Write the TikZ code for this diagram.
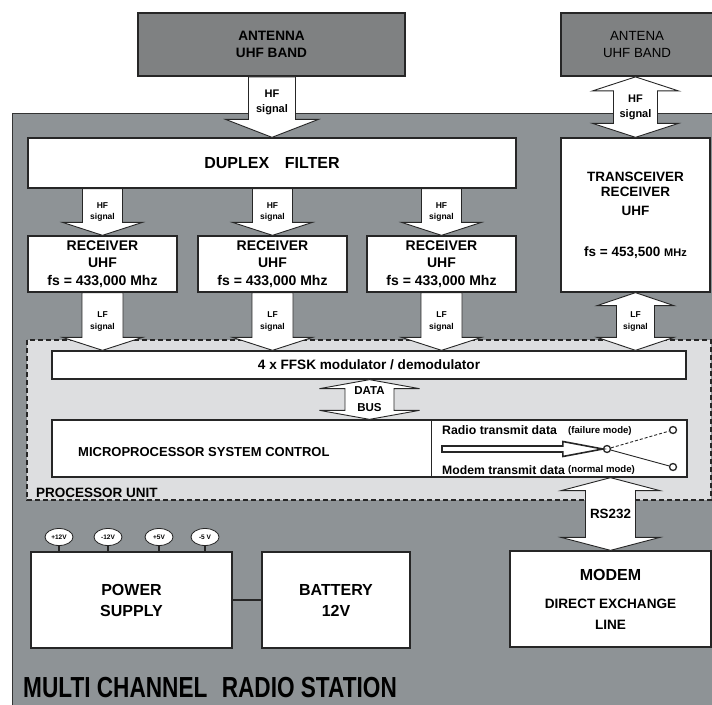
\documentclass[tikz,border=0pt]{standalone}
\usepackage{fontspec}
\setmainfont{Liberation Sans}
\newfontfamily\narrowsans[FakeStretch=0.78]{Liberation Sans}
\usetikzlibrary{calc, shapes.geometric}

\definecolor{stationgray}{RGB}{142,147,150}
\definecolor{antgray}{RGB}{127,129,130}
\definecolor{unitgray}{RGB}{221,222,224}

% vertical block arrows: from, to, shaft half width, head half width, head length, label style, label name, label
\newcommand{\blockdown}[8]{%
  \draw[blockarr] let \p1=#1, \p2=#2 in
    (\x2-#3,\y1) -- (\x2+#3,\y1) -- (\x2+#3,\y2+#5) -- (\x2+#4,\y2+#5) -- (\x2,\y2)
    -- (\x2-#4,\y2+#5) -- (\x2-#3,\y2+#5) -- cycle
    node[#6] (#7) at (\x2,{0.5*(\y1+\y2)}) {#8};}
\newcommand{\blockboth}[8]{%
  \draw[blockarr] let \p1=#1, \p2=#2 in
    (\x2,\y1) -- (\x2+#4,\y1-#5) -- (\x2+#3,\y1-#5) -- (\x2+#3,\y2+#5) -- (\x2+#4,\y2+#5) -- (\x2,\y2)
    -- (\x2-#4,\y2+#5) -- (\x2-#3,\y2+#5) -- (\x2-#3,\y1-#5) -- (\x2-#4,\y1-#5) -- cycle
    node[#6] (#7) at (\x2,{0.5*(\y1+\y2)}) {#8};}

\begin{document}
\begin{tikzpicture}[x=1pt, y=-1pt,
    box/.style={rectangle, draw=black!85, line width=1.3pt, fill=white, align=center, inner sep=0pt, font=\fontsize{14}{17.5}\selectfont\bfseries},
    antbox/.style={rectangle, draw=black!85, line width=1.8pt, fill=antgray, align=center, inner sep=0pt, font=\fontsize{13.6}{17}\selectfont\bfseries},
    term/.style={ellipse, draw=black!85, fill=white, line width=0.8pt, minimum width=28pt, minimum height=17pt, inner sep=0pt, font=\fontsize{6.5}{7}\selectfont\bfseries},
    contact/.style={circle, draw=black!85, fill=white, line width=1.3pt, minimum size=7pt, inner sep=0pt},
    blockarr/.style={draw=black!85, fill=white, line width=0.9pt},
    hollow/.style={draw=black!85, fill=white, line width=1.6pt},
    wire/.style={draw=black!85, line width=1.5pt},
    thinwire/.style={draw=black!85, line width=0.9pt},
    sig/.style={align=center, inner sep=0pt, font=\fontsize{8.5}{11.5}\selectfont\bfseries},
    sigbig/.style={align=center, inner sep=0pt, font=\fontsize{11}{15}\selectfont\bfseries},
    busfont/.style={align=center, inner sep=0pt, font=\fontsize{11.5}{17}\selectfont\bfseries},
    lbl/.style={anchor=west, inner sep=0pt}
  ]
  \useasboundingbox (0,0) rectangle (712,704);
  \clip (0,0) rectangle (712,704);

  % station frame and processor unit
  \draw[draw=black!80, fill=stationgray, line width=0.8pt] (12,113) rectangle (722,714);
  \draw[draw=black!85, fill=unitgray, line width=1.6pt, dash pattern=on 5pt off 3pt] (27,340) rectangle (711,500);

  \node[antbox, minimum width=267pt, minimum height=63pt] (ant1) at (271.5,44.5) {ANTENNA\\UHF BAND};
  \node[antbox, minimum width=152pt, minimum height=63pt, font=\fontsize{13.3}{17}\selectfont] (ant2) at (637,44.5) {ANTENA\\UHF BAND};

  \node[box, minimum width=488pt, minimum height=50pt, font=\fontsize{16}{19}\selectfont\bfseries] (duplex) at (272,163) {DUPLEX \hspace{0.7em}FILTER};
  \node[box, minimum width=149pt, minimum height=154pt, font=\fontsize{13.5}{15}\selectfont\bfseries] (tx) at (635.5,215)
    {TRANSCEIVER\\RECEIVER\\[4pt]UHF\\[26pt]fs = 453,500 {\fontsize{11}{11}\selectfont MHz}};
  \foreach \i/\cx in {1/102.5, 2/272.5, 3/441.5}
    \node[box, minimum width=149pt, minimum height=56pt] (rx\i) at (\cx,264) {RECEIVER\\UHF\\fs = 433,000 Mhz};

  \node[box, minimum width=634pt, minimum height=28pt, font=\fontsize{13.6}{16}\selectfont\bfseries] (ffsk) at (369,365) {4 x FFSK modulator / demodulator};
  \node[box, minimum width=635pt, minimum height=57pt] (msc) at (369.5,448.5) {};
  \coordinate (mscdiv) at (431,0);
  \draw[thinwire] (msc.north -| mscdiv) -- (msc.south -| mscdiv);
  \node[lbl, font=\fontsize{13}{15}\selectfont\bfseries] (msctext) at (78,452) {MICROPROCESSOR SYSTEM CONTROL};

  % data switch
  \node[lbl, font=\fontsize{12.3}{14}\selectfont\bfseries] (radiotx) at (442,430) {Radio transmit data};
  \node[lbl, font=\fontsize{9.6}{11}\selectfont\bfseries] (failmode) at (568,431) {(failure mode)};
  \node[lbl, font=\fontsize{12.2}{14}\selectfont\bfseries] (modemtx) at (442,470) {Modem transmit data};
  \node[lbl, font=\fontsize{9.6}{11}\selectfont\bfseries] (normmode) at (568,470) {(normal mode)};
  \node[contact] (pivot) at (607,449) {};
  \node[contact] (cfail) at (673,430) {};
  \node[contact] (cnorm) at (673,467) {};
  \coordinate (txtail) at (442,449);
  \draw[hollow] let \p1=(txtail), \p2=(pivot.west) in
    (\x1,\y1+3pt) -- (\x2-40pt,\y1+3pt) -- (\x2-40pt,\y1+7.5pt) -- (\x2,\y1)
    -- (\x2-40pt,\y1-7.5pt) -- (\x2-40pt,\y1-3pt) -- (\x1,\y1-3pt) -- cycle;
  \draw[thinwire, densely dashed] (pivot) -- (cfail);
  \draw[thinwire] (pivot) -- (cnorm);

  \node[lbl, font=\fontsize{13.5}{16}\selectfont\bfseries] (unitname) at (36,493) {PROCESSOR UNIT};

  % power and modem
  \node[box, minimum width=201pt, minimum height=96pt, font=\fontsize{16}{21}\selectfont\bfseries] (psu) at (131.5,600) {POWER\\SUPPLY};
  \node[box, minimum width=148pt, minimum height=96pt, font=\fontsize{16}{21}\selectfont\bfseries] (bat) at (336,600) {BATTERY\\12V};
  \node[box, minimum width=201pt, minimum height=96pt, font=\fontsize{13.6}{21}\selectfont\bfseries] (modem) at (610.5,599)
    {{\fontsize{16}{21}\selectfont MODEM}\\[7pt]DIRECT EXCHANGE\\LINE};
  \draw[wire] (psu) -- (bat);
  \foreach \i/\cx/\v in {1/59/+12V, 2/108/-12V, 3/159/+5V, 4/205/-5 V} {
    \node[term] (t\i) at (\cx,537) {\v};
    \draw[wire] (t\i.south) -- (t\i.south |- psu.north);
  }

  % block arrows
  \blockdown{(ant1.south)}{(duplex.north)}{23.5pt}{46.5pt}{18pt}{sigbig, yshift=5pt}{hftop}{HF\\signal}
  \blockboth{(ant2.south)}{(tx.north)}{22pt}{43pt}{14pt}{sigbig}{hfright}{HF\\signal}
  \foreach \i in {1,2,3} {
    \blockdown{(duplex.south)}{(rx\i.north)}{20pt}{40pt}{13pt}{sig}{hf\i}{HF\\signal}
    \blockdown{(rx\i.south)}{(rx\i.south |- ffsk.north)}{20.5pt}{40pt}{13pt}{sig}{lf\i}{LF\\signal}
  }
  \blockboth{(tx.south)}{(tx.south |- ffsk.north)}{19pt}{38.5pt}{13pt}{sig}{lfright}{LF\\signal}
  \blockboth{(ffsk.south)}{(msc.north)}{24.5pt}{50pt}{9pt}{busfont}{databus}{DATA\\BUS}
  \blockboth{(msc.south)}{(modem.north)}{25pt}{49.5pt}{13pt}{busfont, font=\fontsize{13.4}{16}\selectfont\bfseries}{rs}{RS232}

  \node[anchor=base west, inner sep=0pt, font=\narrowsans\fontsize{29}{32}\selectfont\bfseries] (station) at (23,697) {\smash{MULTI CHANNEL \hspace{8pt}RADIO STATION}};
\end{tikzpicture}
\end{document}
